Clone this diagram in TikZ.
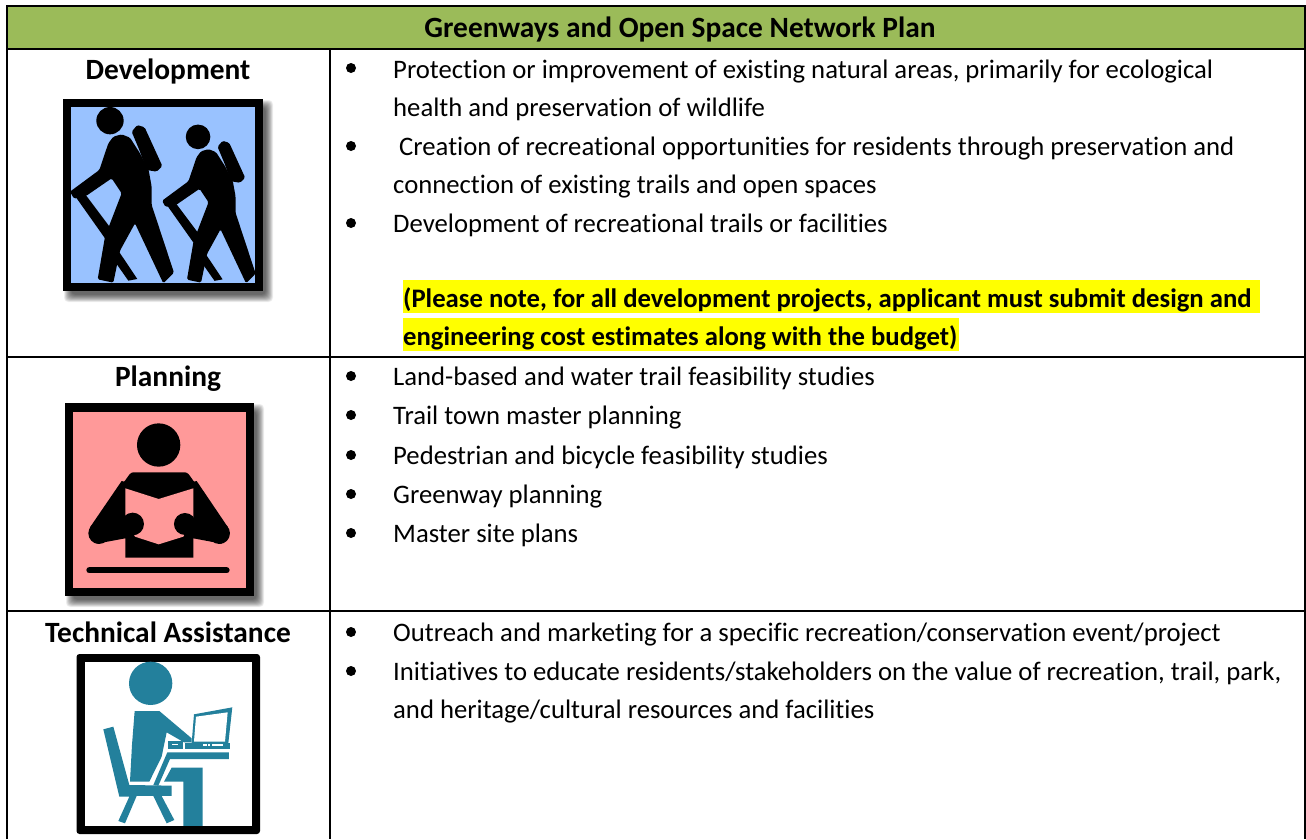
\documentclass[tikz,border=0pt]{standalone}
\usepackage{fontspec}
\setmainfont{Carlito}[Ligatures=NoCommon]
\definecolor{hdr}{HTML}{9BBB59}
\definecolor{hiker}{HTML}{99C2FF}
\definecolor{reader}{HTML}{FF9999}
\definecolor{teal}{HTML}{23809C}
\definecolor{hl}{HTML}{FFFF00}
\tikzset{
 rule/.style={draw=black,line width=2pt},
 body/.style={anchor=base west,inner sep=0pt,font=\fontsize{26.7}{32}\selectfont},
 bodybold/.style={anchor=base west,inner sep=0pt,font=\fontsize{26.7}{32}\selectfont\bfseries},
 heading/.style={anchor=base,inner sep=0pt,font=\fontsize{29.4}{34}\selectfont\bfseries},
 bul/.style={fill=black,circle,inner sep=0pt,minimum size=10pt},
}
\newcommand{\softshadow}[4]{%
 \foreach \i in {0,...,15}{
  \fill[black,opacity=.05,rounded corners=4pt] ({#1+1+\i*.5},{#2+1+\i*.5}) rectangle ({#3+10-\i*.5},{#4+11-\i*.5});
 }}
\newcommand{\hikerfig}{%
 \fill (180,92) circle (41);
 \fill[rounded corners=1.5pt] (245,125) -- (262,105) -- (284,112) -- (337,228) -- (320,245) -- (290,240) -- (268,180) -- cycle;
 \fill[rounded corners=1.5pt] (175,160) -- (190,140) -- (215,133) -- (240,143) -- (270,190) -- (296,240) -- (305,290) -- (305,345) -- (372,548) -- (340,580) -- (255,400) -- (210,482) -- (190,578) -- (143,568) -- (165,440) -- (215,310) -- (185,265) -- (108,318) -- (72,326) -- (60,305) -- (148,240) -- cycle;
 \fill (78,322) -- (108,316) -- (180,412) -- (165,445) -- cycle;
 \fill (205,482) -- (262,567) -- (235,572) -- (195,515) -- cycle;
}
\begin{document}
\begin{tikzpicture}[x=1pt,y=-1pt]
\useasboundingbox (0,0) rectangle (1306,839);
\fill[white] (0,0) rectangle (1306,839);
% table
\fill[hdr] (6.5,6) rectangle (1304.5,48.5);
\draw[rule] (6.5,839) -- (6.5,6) -- (1304.5,6) -- (1304.5,839);
\draw[rule] (6.5,48.5) -- (1304.5,48.5);
\draw[rule] (6.5,356.5) -- (1304.5,356.5);
\draw[rule] (6.5,611) -- (1304.5,611);
\draw[rule] (330,48.5) -- (330,839);
\node[heading] (title) at (680,37) {Greenways and Open Space Network Plan};
\node[heading] (dev) at (168,79) {Development};
\node[heading] (plan) at (168,386) {Planning};
\node[heading] (tech) at (168,642) {Technical Assistance};
% bullets
\foreach \n/\y in {a/68,b/146,c/223,d/376,e/415,f/455,g/494,h/533,i/632,j/671}
  \node[bul] (b\n) at (351,\y) {};
% highlight
\fill[hl] (403,280) rectangle (1260,312.7);
\fill[hl] (403,318.3) rectangle (959,351);
% text
\node[body] (t1) at (393,78) {Protection or improvement of existing natural areas, primarily for ecological};
\node[body] (t2) at (393,116) {health and preservation of wildlife};
\node[body] (t3) at (399,155) {Creation of recreational opportunities for residents through preservation and};
\node[body] (t4) at (393,193) {connection of existing trails and open spaces};
\node[body] (t5) at (393,232) {Development of recreational trails or facilities};
\node[bodybold] (t6) at (403,307) {(Please note, for all development projects, applicant must submit design and};
\node[bodybold] (t7) at (403,345) {engineering cost estimates along with the budget)};
\node[body] (t8) at (393,385) {Land-based and water trail feasibility studies};
\node[body] (t9) at (393,424) {Trail town master planning};
\node[body] (t10) at (393,464) {Pedestrian and bicycle feasibility studies};
\node[body] (t11) at (393,503) {Greenway planning};
\node[body] (t12) at (393,542) {Master site plans};
\node[body] (t13) at (393,641) {Outreach and marketing for a specific recreation/conservation event/project};
\node[body] (t14) at (393,680) {Initiatives to educate residents/stakeholders on the value of recreation, trail, park,};
\node[body] (t15) at (393,718) {and heritage/cultural resources and facilities};
% hikers icon
\softshadow{63}{99}{263}{291}
\fill[black] (63,99) rectangle (263,291);
\fill[hiker] (71,107) rectangle (255,283);
\begin{scope}[shift={(50,90)},x=0.3333pt,y=-0.3333pt,black]
 \hikerfig
\end{scope}
\begin{scope}[shift={(50,90)},x=0.3333pt,y=-0.3333pt,black]
 \begin{scope}[shift={(338,578)},scale=.9]
 \begin{scope}[shift={(-62,-578)}]
 \hikerfig
 \end{scope}\end{scope}
\end{scope}
% reader icon
\softshadow{65}{403}{254}{596}
\fill[black] (65,403) rectangle (254,596);
\fill[reader] (73,412) rectangle (246,588);
\begin{scope}[shift={(50,395)},x=0.3333pt,y=-0.3333pt]
 \fill (326,150) circle (65);
 \fill (120,397) -- (215,258) to[out=-55,in=180] (250,232) -- (405,232) to[out=0,in=-125] (440,258) -- (534,397) -- (515,446) -- (430,430) -- (430,488) -- (226,488) -- (226,430) -- (140,446) -- cycle;
 \fill (147,415) circle (32);
 \fill (508,415) circle (32);
 \fill[reader] (226,280) -- (326,312) -- (430,280) -- (430,370) -- (400,425) -- (326,448) -- (255,425) -- (226,370) -- cycle;
 \fill (405,387) circle (33);
 \fill (248,387) circle (34);
 \draw[line width=6pt,line cap=round] (118,526) -- (530,526);
\end{scope}
% tech icon
\fill[black,rounded corners=3pt] (76.5,654) rectangle (260,834);
\fill[white] (84.5,662) rectangle (252,826);
\begin{scope}[shift={(60,645)},x=0.3333pt,y=-0.3333pt,teal]
 \fill (272,115) circle (65);
 \fill (224,198) -- (298,198) -- (395,280) -- (395,292) -- (372,292) -- (320,262) -- (305,335) -- (268,410) -- (210,410) -- (216,300) -- cycle;
 \fill (325,288) rectangle (370,312);
 \fill[white] (335,296) rectangle (355,301);
 \fill (375,293) rectangle (510,312);
 \fill (402,208) -- (517,187) -- (505,295) -- (395,295) -- cycle;
 \fill[white] (408,215) -- (503,202) -- (495,290) -- (402,290) -- cycle;
 \fill[white] (430,298) rectangle (440,302);
 \fill[white] (445,298) rectangle (450,302);
 \fill[white] (456,298) rectangle (490,302);
 \fill (322,322) -- (507,322) -- (507,342) -- (330,342) -- (295,422) -- (280,420) -- cycle;
 \fill (335,368) -- (428,368) -- (428,543) -- (370,543) -- (370,410) -- (312,410) -- cycle;
 \fill (130,253) -- (160,245) -- (208,420) -- (335,422) -- (335,453) -- (230,453) -- (195,535) -- (175,528) -- (208,455) -- (178,455) -- cycle;
 \fill (280,453) -- (305,453) -- (343,525) -- (320,535) -- cycle;
\end{scope}
\end{tikzpicture}
\end{document}
